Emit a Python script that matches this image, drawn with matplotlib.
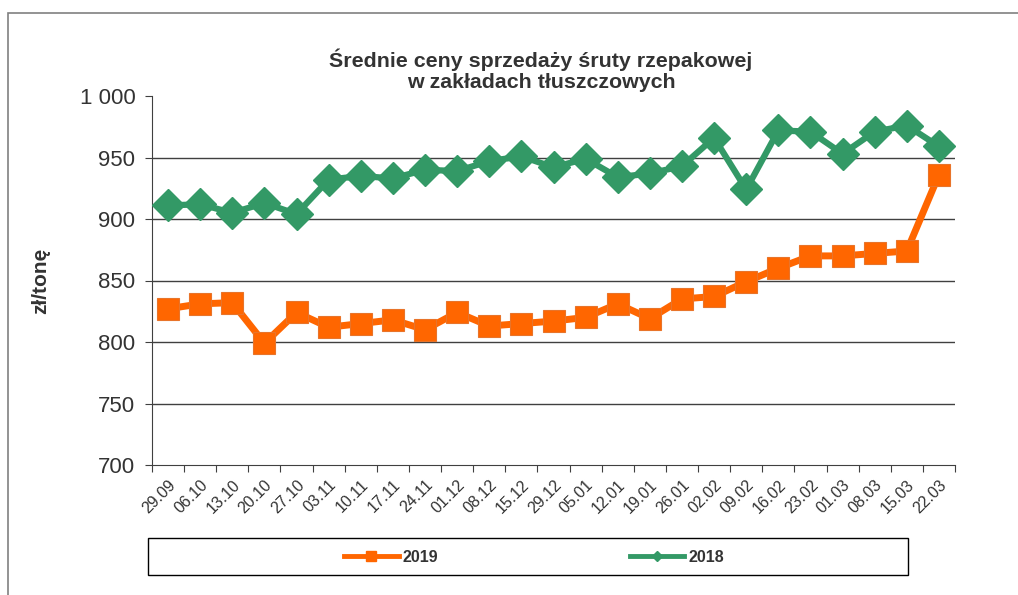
import numpy as np
import matplotlib.pyplot as plt
from matplotlib.patches import Rectangle
from matplotlib.lines import Line2D

plt.rcParams['font.family'] = ['Liberation Sans', 'DejaVu Sans']

# tygodnie notowań
weeks = ["29.09", "06.10", "13.10", "20.10", "27.10", "03.11", "10.11", "17.11",
         "24.11", "01.12", "08.12", "15.12", "29.12", "05.01", "12.01", "19.01",
         "26.01", "02.02", "09.02", "16.02", "23.02", "01.03", "08.03", "15.03",
         "22.03"]

# zł/tonę
prices_2019 = [827, 831, 832, 799, 824, 812, 815, 818, 810, 824, 813, 815, 817,
               820, 831, 819, 835, 837, 849, 860, 870, 870, 872, 874, 936]
prices_2018 = [911, 912, 905, 913, 904, 932, 935, 933, 940, 939, 947, 951, 942,
               949, 934, 937, 943, 966, 924, 972, 971, 953, 971, 976, 959]

y_ticks = [700, 750, 800, 850, 900, 950, 1000]
y_tick_labels = ["700", "750", "800", "850", "900", "950", "1 000"]

ORANGE = "#FF6600"
GREEN = "#339966"
TEXT = "#333333"

fig = plt.figure(figsize=(10.18, 5.95), dpi=100)

# outer frame of the chart area
fig.patches.append(Rectangle((8 / 1018, -0.05), 1.2, 1 - 13 / 595 + 0.05,
                             transform=fig.transFigure, fill=False,
                             edgecolor="#808080", linewidth=1.2))

ax = fig.add_axes([152 / 1018, 1 - 465 / 595, 803 / 1018, 369 / 595])
x = np.arange(len(weeks))

for yv in [750, 800, 850, 900, 950]:
    ax.axhline(yv, color="#404040", linewidth=1.0, zorder=1)

ax.plot(x, prices_2018, color=GREEN, linewidth=4.5, marker="D", markersize=16,
        zorder=3)
ax.plot(x, prices_2019, color=ORANGE, linewidth=5, marker="s", markersize=16,
        markeredgecolor="#E8742A", markeredgewidth=0.8, zorder=4)

ax.set_xlim(-0.5, len(weeks) - 0.5)
ax.set_ylim(700, 1000)
ax.set_yticks(y_ticks)
ax.set_yticklabels(y_tick_labels, fontsize=16, color=TEXT)

ax.set_xticks(np.arange(-0.5, len(weeks), 1.0))
ax.set_xticklabels([])
ax.set_xticks(x, minor=True)
ax.set_xticklabels(weeks, minor=True, rotation=45, ha="right",
                   rotation_mode="anchor", fontsize=11.5, color=TEXT)
ax.tick_params(axis="x", which="minor", length=0, pad=9)
ax.tick_params(axis="x", which="major", length=5, color="#404040")
ax.tick_params(axis="y", length=5, color="#404040", pad=7)

for side in ["top", "right"]:
    ax.spines[side].set_visible(False)
for side in ["left", "bottom"]:
    ax.spines[side].set_color("#404040")

ax.set_ylabel("zł/tonę", fontsize=15, fontweight="bold", color=TEXT,
              labelpad=21)

fig.text(541 / 1018, 1 - 70 / 595,
         "Średnie ceny sprzedaży śruty rzepakowej\nw zakładach tłuszczowych",
         ha="center", va="center", fontsize=15.4, fontweight="bold",
         color=TEXT, linespacing=1.15)

# legend box
fig.patches.append(Rectangle((148 / 1018, 1 - 575 / 595), 760 / 1018, 37 / 595,
                             transform=fig.transFigure, fill=False,
                             edgecolor="black", linewidth=1.0))
handles = [
    Line2D([], [], color=ORANGE, linewidth=3.5, marker="s", markersize=7),
    Line2D([], [], color=GREEN, linewidth=3.5, marker="D", markersize=5),
]
fig.legend(handles, ["2019", "2018"], loc="center",
           bbox_to_anchor=(534 / 1018, 1 - 557 / 595), ncol=2, frameon=False,
           prop={"weight": "bold", "size": 11.5}, labelcolor=TEXT,
           columnspacing=12, handlelength=3.4, handletextpad=0.25)

fig.savefig("out.png", dpi=100)
